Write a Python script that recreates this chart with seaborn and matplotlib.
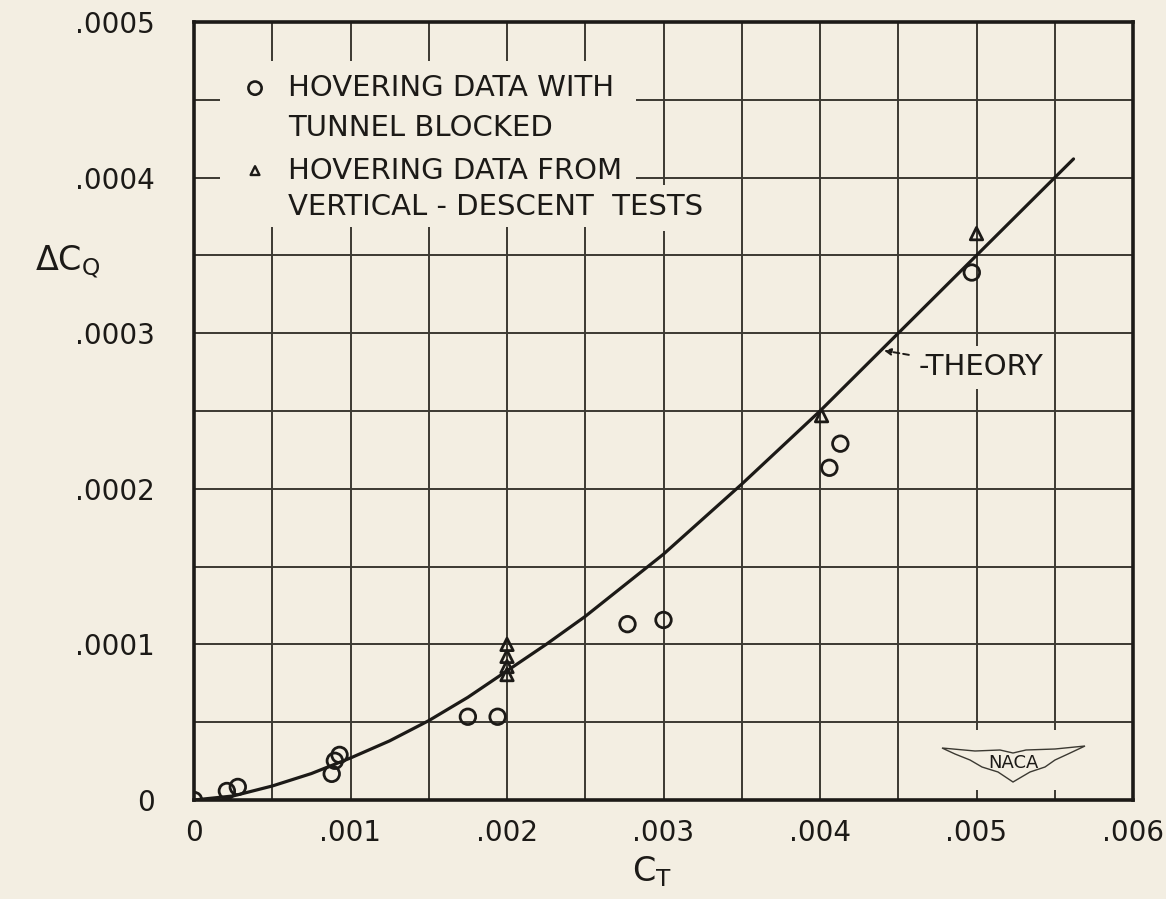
import numpy as np
import pandas as pd
import matplotlib
matplotlib.use("Agg")
import matplotlib.pyplot as plt
from matplotlib.patches import Rectangle, Polygon
import seaborn as sns

# hovering data, tunnel blocked (circles)
blocked_ct = [0.0, 0.00021, 0.00028, 0.00088, 0.00090, 0.00093, 0.00175, 0.00194,
              0.00277, 0.00300, 0.00406, 0.00413, 0.00497]
blocked_cq = [0.0, 0.0000058, 0.0000084, 0.0000168, 0.0000252, 0.000029, 0.0000535, 0.0000535,
              0.000113, 0.0001157, 0.0002135, 0.000229, 0.000339]

# hovering data from vertical-descent tests (triangles)
descent_ct = [0.00200, 0.00200, 0.00200, 0.00200, 0.00401, 0.00500]
descent_cq = [0.0001, 0.0000923, 0.0000858, 0.0000806, 0.000247, 0.000364]

# theory curve
theory_ct = [0.0, 0.00025, 0.0005, 0.00075, 0.001, 0.00125, 0.0015, 0.00175, 0.002, 0.00225,
             0.0025, 0.00275, 0.003, 0.0035, 0.004, 0.0045, 0.005, 0.0055, 0.00562]
theory_cq = [0.0, 0.0000026, 0.000009, 0.000017, 0.000027, 0.000038, 0.000051, 0.000066,
             0.000083, 0.0001, 0.000118, 0.000138, 0.000158, 0.000203, 0.00025, 0.0003,
             0.00035, 0.0004, 0.000412]

x_ticks = [0, 0.001, 0.002, 0.003, 0.004, 0.005, 0.006]
x_labels = ["0", ".001", ".002", ".003", ".004", ".005", ".006"]
y_ticks = [0, 0.0001, 0.0002, 0.0003, 0.0004, 0.0005]
y_labels = ["0", ".0001", ".0002", ".0003", ".0004", ".0005"]

legend_lines = ["HOVERING DATA WITH", "TUNNEL BLOCKED",
                "HOVERING DATA FROM", "VERTICAL - DESCENT  TESTS"]

paper = "#f3eee2"
ink = "#1c1a17"
grid_ink = "#3b3932"

sns.set_style("white")
plt.rcParams["font.family"] = ["DejaVu Sans"]
plt.rcParams["mathtext.fontset"] = "dejavusans"

blocked = pd.DataFrame({"ct": blocked_ct, "cq": blocked_cq})
descent = pd.DataFrame({"ct": descent_ct, "cq": descent_cq})
theory = pd.DataFrame({"ct": theory_ct, "cq": theory_cq})

fig = plt.figure(figsize=(11.66, 8.99), dpi=100, facecolor=paper)
ax = fig.add_axes([194 / 1166, 99 / 899, 939 / 1166, 778 / 899])
ax.set_facecolor(paper)

sns.lineplot(data=theory, x="ct", y="cq", color=ink, lw=2.3, ax=ax, zorder=4)
sns.scatterplot(data=blocked, x="ct", y="cq", marker="o", s=125, color=ink,
                facecolor="none", edgecolor=ink, linewidth=2.0, ax=ax, zorder=5)
sns.scatterplot(data=descent, x="ct", y="cq", marker="^", s=80, color=ink,
                facecolor="none", edgecolor=ink, linewidth=2.0, ax=ax, zorder=5)

ax.set_xlim(0, 0.006)
ax.set_ylim(0, 0.0005)
ax.set_xticks(x_ticks)
ax.set_xticklabels(x_labels)
ax.set_yticks(y_ticks)
ax.set_yticklabels(y_labels)
ax.set_xticks(np.arange(0.0005, 0.006, 0.001), minor=True)
ax.set_yticks(np.arange(0.00005, 0.0005, 0.0001), minor=True)
ax.tick_params(which="both", length=0)
ax.tick_params(axis="x", pad=14, labelsize=20, labelcolor=ink)
ax.tick_params(axis="y", pad=28, labelsize=20, labelcolor=ink)
ax.grid(True, which="both", color=grid_ink, lw=1.4)
ax.set_axisbelow(True)
ax.set_xlabel("")
ax.set_ylabel("")
for sp in ax.spines.values():
    sp.set_visible(True)
    sp.set_color(ink)
    sp.set_linewidth(2.6)

# blank the grid behind the legend and the logo
ax.add_patch(Rectangle((0.000166, 0.000368), 0.00266, 0.000107, facecolor=paper,
                       edgecolor="none", zorder=1.5))
ax.add_patch(Rectangle((0.00279, 0.000366), 0.00060, 0.0000295, facecolor=paper,
                       edgecolor="none", zorder=1.5))
ax.add_patch(Rectangle((0.00480, 0.0000065), 0.00095, 0.0000385, facecolor=paper,
                       edgecolor="none", zorder=1.5))

# legend
ax.scatter([0.065], [0.915], transform=ax.transAxes, marker="o", s=90,
           facecolor="none", edgecolor=ink, linewidth=1.9, zorder=6)
ax.scatter([0.065], [0.809], transform=ax.transAxes, marker="^", s=40,
           facecolor="none", edgecolor=ink, linewidth=1.7, zorder=6)
for txt, yy in zip(legend_lines, [0.915, 0.864, 0.809, 0.762]):
    ax.text(0.100, yy, txt, transform=ax.transAxes, ha="left", va="center",
            fontsize=21, color=ink, zorder=6)

# theory label
ax.annotate("-THEORY", xy=(0.00440, 0.000289), xytext=(0.772, 0.556),
            textcoords="axes fraction", ha="left", va="center", fontsize=21, color=ink,
            bbox=dict(boxstyle="square,pad=0.25", facecolor=paper, edgecolor="none"),
            arrowprops=dict(arrowstyle="-|>", color=ink, lw=1.4, mutation_scale=10,
                            linestyle=(0, (3, 2)), shrinkA=2, shrinkB=1),
            zorder=6)

# NACA wings
wing_px = [(942, 748), (975, 751), (1000, 750), (1013, 753), (1026, 750), (1055, 749),
           (1085, 746), (1068, 754), (1055, 760), (1045, 767), (1030, 772), (1013, 782),
           (998, 772), (982, 767), (970, 760), (955, 754)]
wing = [((px - 194) / 939, (800 - py) / 778) for px, py in wing_px]
ax.add_patch(Polygon(wing, closed=True, transform=ax.transAxes, facecolor="none",
                     edgecolor=grid_ink, lw=1.0, zorder=6))
ax.text((1013 - 194) / 939, (800 - 763) / 778, "NACA", transform=ax.transAxes,
        ha="center", va="center", fontsize=13, color=ink, zorder=7)

# axis titles
fig.text(35 / 1166, 1 - 262 / 899, r"$\Delta\mathrm{C}_{\mathrm{Q}}$", ha="left", va="center",
         fontsize=24, color=ink)
fig.text(652 / 1166, 1 - 872 / 899, r"$\mathrm{C}_{\mathrm{T}}$", ha="center", va="center",
         fontsize=24, color=ink)

fig.savefig("out.png", dpi=100, facecolor=paper)
